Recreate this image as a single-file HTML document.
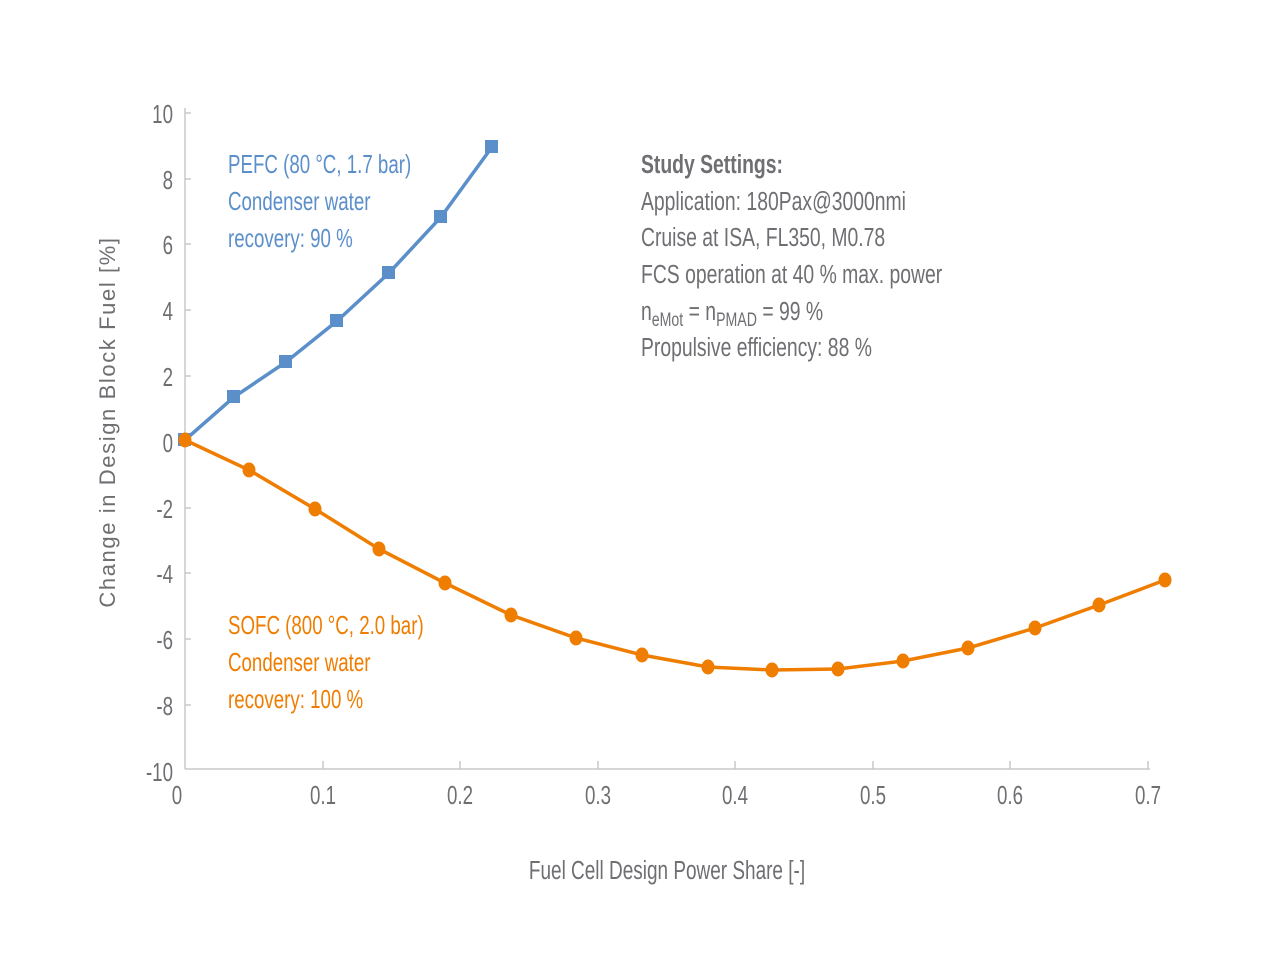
<!DOCTYPE html>
<html><head><meta charset="utf-8"><style>
html,body{margin:0;padding:0;background:#fff;}
svg text{font-family:"Liberation Sans",sans-serif;}
</style></head><body>
<svg width="1280" height="960" viewBox="0 0 1280 960" xmlns="http://www.w3.org/2000/svg">
<g stroke="#c8c8c8" stroke-width="1.5" fill="none">
<line x1="185" y1="108" x2="185" y2="769"/>
<line x1="185" y1="769" x2="1150" y2="769"/>
<line x1="185" y1="113" x2="191" y2="113"/>
<line x1="185" y1="179" x2="191" y2="179"/>
<line x1="185" y1="244" x2="191" y2="244"/>
<line x1="185" y1="310" x2="191" y2="310"/>
<line x1="185" y1="376" x2="191" y2="376"/>
<line x1="185" y1="508" x2="191" y2="508"/>
<line x1="185" y1="573" x2="191" y2="573"/>
<line x1="185" y1="639" x2="191" y2="639"/>
<line x1="185" y1="705" x2="191" y2="705"/>
<line x1="323" y1="761" x2="323" y2="769"/>
<line x1="460" y1="761" x2="460" y2="769"/>
<line x1="598" y1="761" x2="598" y2="769"/>
<line x1="735" y1="761" x2="735" y2="769"/>
<line x1="873" y1="761" x2="873" y2="769"/>
<line x1="1010" y1="761" x2="1010" y2="769"/>
<line x1="1148" y1="761" x2="1148" y2="769"/>
</g>
<g fill="#6f6f73" font-size="26">
<g text-anchor="end">
<text x="173" y="123" transform="translate(173 0) scale(0.72 1) translate(-173 0)">10</text>
<text x="173" y="189" transform="translate(173 0) scale(0.72 1) translate(-173 0)">8</text>
<text x="173" y="254" transform="translate(173 0) scale(0.72 1) translate(-173 0)">6</text>
<text x="173" y="320" transform="translate(173 0) scale(0.72 1) translate(-173 0)">4</text>
<text x="173" y="386" transform="translate(173 0) scale(0.72 1) translate(-173 0)">2</text>
<text x="173" y="452" transform="translate(173 0) scale(0.72 1) translate(-173 0)">0</text>
<text x="173" y="518" transform="translate(173 0) scale(0.72 1) translate(-173 0)">-2</text>
<text x="173" y="583" transform="translate(173 0) scale(0.72 1) translate(-173 0)">-4</text>
<text x="173" y="649" transform="translate(173 0) scale(0.72 1) translate(-173 0)">-6</text>
<text x="173" y="715" transform="translate(173 0) scale(0.72 1) translate(-173 0)">-8</text>
<text x="173" y="781" transform="translate(173 0) scale(0.72 1) translate(-173 0)">-10</text>
</g>
<g text-anchor="middle">
<text x="177" y="804" transform="translate(177 0) scale(0.72 1) translate(-177 0)">0</text>
<text x="323" y="804" transform="translate(323 0) scale(0.72 1) translate(-323 0)">0.1</text>
<text x="460" y="804" transform="translate(460 0) scale(0.72 1) translate(-460 0)">0.2</text>
<text x="598" y="804" transform="translate(598 0) scale(0.72 1) translate(-598 0)">0.3</text>
<text x="735" y="804" transform="translate(735 0) scale(0.72 1) translate(-735 0)">0.4</text>
<text x="873" y="804" transform="translate(873 0) scale(0.72 1) translate(-873 0)">0.5</text>
<text x="1010" y="804" transform="translate(1010 0) scale(0.72 1) translate(-1010 0)">0.6</text>
<text x="1148" y="804" transform="translate(1148 0) scale(0.72 1) translate(-1148 0)">0.7</text>
<text x="667" y="879" transform="translate(667 0) scale(0.73 1) translate(-667 0)">Fuel Cell Design Power Share [-]</text>
</g>
<text font-size="22" letter-spacing="1.6" text-anchor="middle" transform="translate(115 422) rotate(-90)">Change in Design Block Fuel [%]</text>
</g>
<polyline fill="none" stroke="#5b8fca" stroke-width="3.5" points="185,440 234,397 286,362 337,321 389,273 441,217 492,147"/>
<g fill="#5b8fca">
<rect x="178" y="433" width="13" height="13"/><rect x="227" y="390" width="13" height="13"/><rect x="279" y="355" width="13" height="13"/><rect x="330" y="314" width="13" height="13"/><rect x="382" y="266" width="13" height="13"/><rect x="434" y="210" width="13" height="13"/><rect x="485" y="140" width="13" height="13"/>
</g>
<polyline fill="none" stroke="#ef7d00" stroke-width="3.5" points="185,440 249,470 315,509 379,549 445,583 511,615 576,638 642,655 708,667 772,670 838,669 903,661 968,648 1035,628 1099,605 1165,580"/>
<g fill="#ef7d00">
<ellipse cx="185" cy="440" rx="6.5" ry="7.5"/><ellipse cx="249" cy="470" rx="6.5" ry="7.5"/><ellipse cx="315" cy="509" rx="6.5" ry="7.5"/><ellipse cx="379" cy="549" rx="6.5" ry="7.5"/><ellipse cx="445" cy="583" rx="6.5" ry="7.5"/><ellipse cx="511" cy="615" rx="6.5" ry="7.5"/><ellipse cx="576" cy="638" rx="6.5" ry="7.5"/><ellipse cx="642" cy="655" rx="6.5" ry="7.5"/><ellipse cx="708" cy="667" rx="6.5" ry="7.5"/><ellipse cx="772" cy="670" rx="6.5" ry="7.5"/><ellipse cx="838" cy="669" rx="6.5" ry="7.5"/><ellipse cx="903" cy="661" rx="6.5" ry="7.5"/><ellipse cx="968" cy="648" rx="6.5" ry="7.5"/><ellipse cx="1035" cy="628" rx="6.5" ry="7.5"/><ellipse cx="1099" cy="605" rx="6.5" ry="7.5"/><ellipse cx="1165" cy="580" rx="6.5" ry="7.5"/>
</g>
<g font-size="26" transform="translate(228 0) scale(0.72 1) translate(-228 0)">
<g fill="#5b8fca">
<text x="228" y="173">PEFC (80 °C, 1.7 bar)</text>
<text x="228" y="210">Condenser water</text>
<text x="228" y="247">recovery: 90 %</text>
</g>
<g fill="#ef7d00">
<text x="228" y="634">SOFC (800 °C, 2.0 bar)</text>
<text x="228" y="671">Condenser water</text>
<text x="228" y="708">recovery: 100 %</text>
</g>
</g>
<g font-size="26" fill="#6f6f73" transform="translate(641 0) scale(0.745 1) translate(-641 0)">
<text x="641" y="173" font-weight="bold">Study Settings:</text>
<text x="641" y="210">Application: 180Pax@3000nmi</text>
<text x="641" y="246">Cruise at ISA, FL350, M0.78</text>
<text x="641" y="283">FCS operation at 40 % max. power</text>
<text x="641" y="320">n<tspan font-size="19" dy="6">eMot</tspan><tspan dy="-6"> = n</tspan><tspan font-size="19" dy="6">PMAD</tspan><tspan dy="-6"> = 99 %</tspan></text>
<text x="641" y="356">Propulsive efficiency: 88 %</text>
</g>
</svg>
</body></html>
